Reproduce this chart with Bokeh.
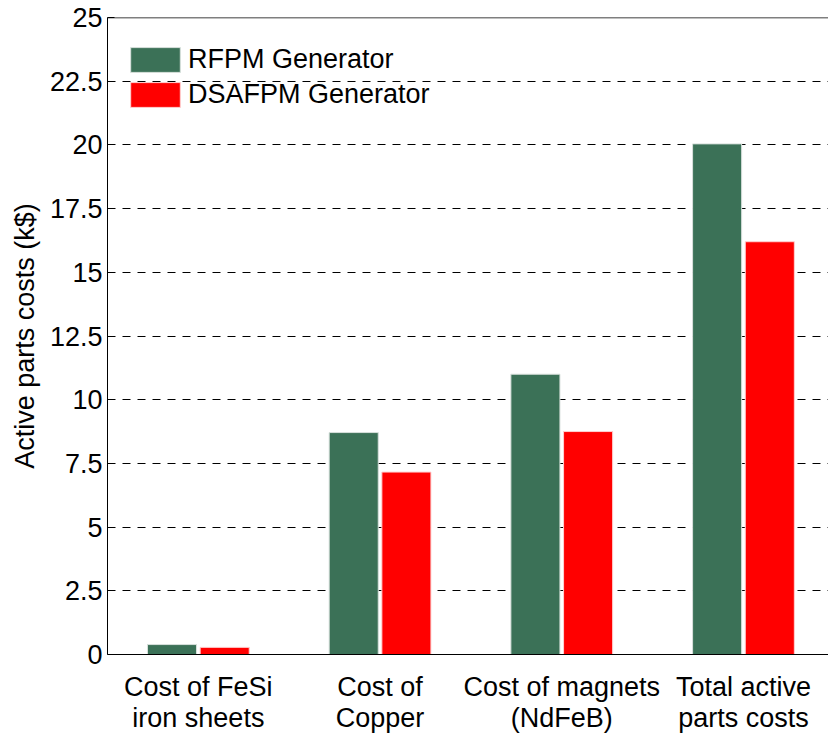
import numpy as np
from bokeh.plotting import figure
from bokeh.models import (ColumnDataSource, FixedTicker, Range1d, Span,
                          Legend, LegendItem)
from bokeh.transform import dodge
from bokeh.embed import file_html
from bokeh.resources import INLINE

categories = ["Cost of FeSi\niron sheets", "Cost of\nCopper",
              "Cost of magnets\n(NdFeB)", "Total active\nparts costs"]
rfpm = [0.39, 8.71, 11.0, 20.04]
dsafpm = [0.28, 7.16, 8.75, 16.2]
series_names = ["RFPM Generator", "DSAFPM Generator"]
y_ticks = [0, 2.5, 5, 7.5, 10, 12.5, 15, 17.5, 20, 22.5, 25]
y_tick_labels = ["0", "2.5", "5", "7.5", "10", "12.5", "15", "17.5", "20", "22.5", "25"]

GREEN = "#3B7157"
RED = "#FF0000"
FONT = "Liberation Sans"

x = np.arange(1, len(categories) + 1)
src = ColumnDataSource(dict(x=x, rfpm=rfpm, dsafpm=dsafpm))

p = figure(width=828, height=736, output_backend="svg", toolbar_location=None,
           x_range=Range1d(0.5, 4.468), y_range=Range1d(0, 25),
           min_border_left=107, min_border_right=0, min_border_top=17,
           min_border_bottom=82)
p.outline_line_color = None
p.background_fill_color = "white"

r1 = p.vbar(x=dodge("x", -0.145), top="rfpm", width=0.27, source=src,
            fill_color=GREEN, line_color="#d8e0dc", line_width=1)
r2 = p.vbar(x=dodge("x", 0.145), top="dsafpm", width=0.27, source=src,
            fill_color=RED, line_color="#ffd0d0", line_width=1)

# y axis
yax = p.yaxis[0]
yax.ticker = FixedTicker(ticks=y_ticks)
yax.major_label_overrides = {t: l for t, l in zip(y_ticks, y_tick_labels)}
yax.major_label_text_font = FONT
yax.major_label_text_font_size = "27px"
yax.major_label_text_color = "black"
yax.major_tick_in = 7
yax.major_tick_out = 0
yax.minor_tick_line_color = None
yax.axis_line_color = "black"
yax.major_tick_line_color = "black"
yax.major_label_standoff = 5
yax.axis_label = "Active parts costs (k$)"
yax.axis_label_text_font = FONT
yax.axis_label_text_font_size = "27px"
yax.axis_label_text_font_style = "normal"
yax.axis_label_text_color = "black"
yax.axis_label_standoff = 7

# x axis
xax = p.xaxis[0]
xax.ticker = FixedTicker(ticks=list(x))
xax.major_label_overrides = {int(i): c for i, c in zip(x, categories)}
xax.major_label_text_font = FONT
xax.major_label_text_font_size = "27px"
xax.major_label_text_line_height = 1.05
xax.major_label_text_color = "black"
xax.major_tick_line_color = None
xax.minor_tick_line_color = None
xax.axis_line_color = "black"
xax.major_label_standoff = 11

# top border line
p.add_layout(Span(location=y_ticks[-1], dimension="width",
                  line_color="black", line_width=1.5))

# grid
p.xgrid.grid_line_color = None
p.ygrid.ticker = FixedTicker(ticks=y_ticks[1:-1])
p.ygrid.grid_line_color = "black"
p.ygrid.grid_line_dash = "8 7"
p.ygrid.grid_line_width = 1

legend = Legend(items=[LegendItem(label=series_names[0], renderers=[r1]),
                       LegendItem(label=series_names[1], renderers=[r2])],
                location=(17, 544), orientation="vertical")
legend.border_line_color = None
legend.background_fill_alpha = 0
legend.padding = 0
legend.margin = 0
legend.spacing = 4
legend.glyph_width = 62
legend.glyph_height = 31
legend.label_height = 31
legend.label_standoff = 2
legend.label_text_font = FONT
legend.label_text_font_size = "27px"
legend.label_text_color = "black"
p.add_layout(legend)

open("out.html", "w").write(file_html(p, INLINE))
